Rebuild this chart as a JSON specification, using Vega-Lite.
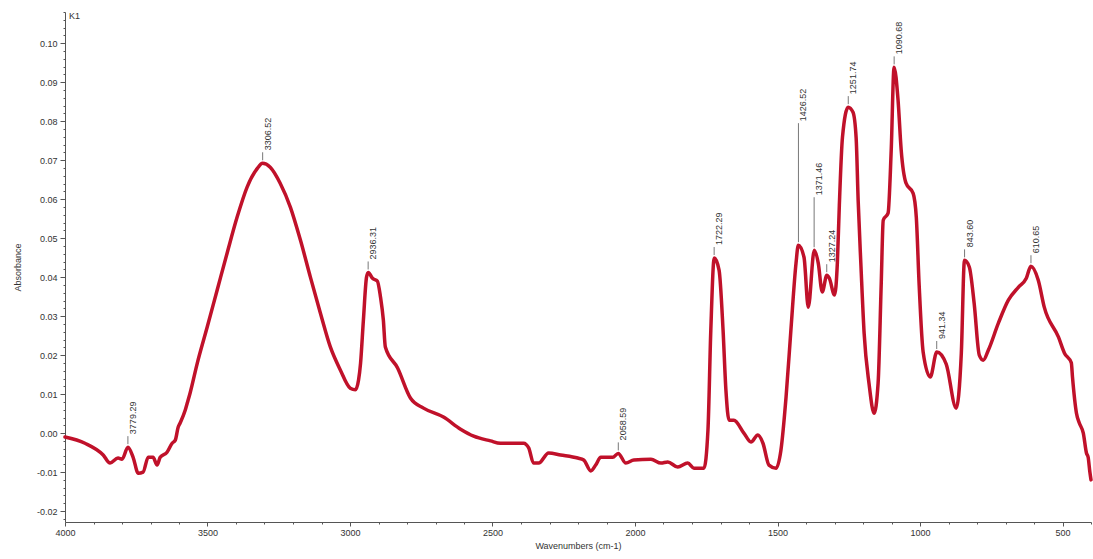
{
  "$schema": "https://vega.github.io/schema/vega-lite/v6.json",
  "width": 1026,
  "height": 510,
  "autosize": {"type": "none"},
  "padding": {"left": 65, "top": 12, "right": 2, "bottom": 37},
  "background": "white",
  "config": {"view": {"stroke": null}, "font": "Liberation Sans"},
  "title": {"text": "K1", "anchor": "start", "frame": "group", "fontSize": 9, "fontWeight": "normal", "color": "#333", "baseline": "top", "offset": -13, "dx": 4},
  "datasets": {
    "spectrum": [
      {"wn": 4000, "a": -0.0010}, {"wn": 3930, "a": -0.0026}, {"wn": 3866, "a": -0.0056}, {"wn": 3842, "a": -0.0077},
      {"wn": 3814, "a": -0.0064}, {"wn": 3800, "a": -0.0067}, {"wn": 3779, "a": -0.0036}, {"wn": 3761, "a": -0.0062},
      {"wn": 3743, "a": -0.0103}, {"wn": 3726, "a": -0.0100}, {"wn": 3708, "a": -0.0062}, {"wn": 3691, "a": -0.0062},
      {"wn": 3677, "a": -0.0082}, {"wn": 3666, "a": -0.0062}, {"wn": 3642, "a": -0.0049}, {"wn": 3624, "a": -0.0026},
      {"wn": 3613, "a": -0.0018}, {"wn": 3603, "a": 0.0015}, {"wn": 3596, "a": 0.0026}, {"wn": 3578, "a": 0.0059},
      {"wn": 3571, "a": 0.0077}, {"wn": 3561, "a": 0.0103}, {"wn": 3536, "a": 0.0179}, {"wn": 3501, "a": 0.0272},
      {"wn": 3466, "a": 0.0367}, {"wn": 3431, "a": 0.0462}, {"wn": 3396, "a": 0.0554}, {"wn": 3361, "a": 0.0631},
      {"wn": 3325, "a": 0.0679}, {"wn": 3307, "a": 0.0692}, {"wn": 3280, "a": 0.0682}, {"wn": 3245, "a": 0.0641},
      {"wn": 3209, "a": 0.0579}, {"wn": 3174, "a": 0.0495}, {"wn": 3139, "a": 0.0400}, {"wn": 3104, "a": 0.0308},
      {"wn": 3069, "a": 0.0221}, {"wn": 3034, "a": 0.0162}, {"wn": 2999, "a": 0.0115}, {"wn": 2981, "a": 0.0111},
      {"wn": 2970, "a": 0.0136}, {"wn": 2963, "a": 0.0179}, {"wn": 2953, "a": 0.0290}, {"wn": 2942, "a": 0.0400},
      {"wn": 2936, "a": 0.0412}, {"wn": 2921, "a": 0.0397}, {"wn": 2904, "a": 0.0390}, {"wn": 2893, "a": 0.0349},
      {"wn": 2883, "a": 0.0290}, {"wn": 2876, "a": 0.0221}, {"wn": 2833, "a": 0.0167}, {"wn": 2788, "a": 0.0090},
      {"wn": 2742, "a": 0.0064}, {"wn": 2672, "a": 0.0041}, {"wn": 2612, "a": 0.0010}, {"wn": 2566, "a": -0.0008},
      {"wn": 2507, "a": -0.0020}, {"wn": 2472, "a": -0.0026}, {"wn": 2391, "a": -0.0026}, {"wn": 2373, "a": -0.0038},
      {"wn": 2356, "a": -0.0077}, {"wn": 2338, "a": -0.0077}, {"wn": 2303, "a": -0.0051}, {"wn": 2261, "a": -0.0056},
      {"wn": 2201, "a": -0.0064}, {"wn": 2180, "a": -0.0069}, {"wn": 2155, "a": -0.0097}, {"wn": 2138, "a": -0.0082},
      {"wn": 2120, "a": -0.0062}, {"wn": 2078, "a": -0.0062}, {"wn": 2059, "a": -0.0052}, {"wn": 2032, "a": -0.0077},
      {"wn": 2004, "a": -0.0069}, {"wn": 1944, "a": -0.0067}, {"wn": 1909, "a": -0.0077}, {"wn": 1885, "a": -0.0074},
      {"wn": 1850, "a": -0.0087}, {"wn": 1815, "a": -0.0077}, {"wn": 1793, "a": -0.0090}, {"wn": 1758, "a": -0.0090},
      {"wn": 1744, "a": 0.0008}, {"wn": 1734, "a": 0.0264}, {"wn": 1722, "a": 0.0449}, {"wn": 1705, "a": 0.0418},
      {"wn": 1691, "a": 0.0264}, {"wn": 1681, "a": 0.0110}, {"wn": 1670, "a": 0.0033}, {"wn": 1653, "a": 0.0033},
      {"wn": 1618, "a": 0.0000}, {"wn": 1593, "a": -0.0023}, {"wn": 1569, "a": -0.0005}, {"wn": 1551, "a": -0.0026},
      {"wn": 1530, "a": -0.0082}, {"wn": 1505, "a": -0.0090}, {"wn": 1488, "a": -0.0044}, {"wn": 1470, "a": 0.0092},
      {"wn": 1453, "a": 0.0264}, {"wn": 1435, "a": 0.0436}, {"wn": 1427, "a": 0.0482}, {"wn": 1407, "a": 0.0451},
      {"wn": 1392, "a": 0.0323}, {"wn": 1371, "a": 0.0469}, {"wn": 1357, "a": 0.0436}, {"wn": 1343, "a": 0.0362},
      {"wn": 1327, "a": 0.0405}, {"wn": 1318, "a": 0.0397}, {"wn": 1300, "a": 0.0354}, {"wn": 1290, "a": 0.0436},
      {"wn": 1283, "a": 0.0585}, {"wn": 1272, "a": 0.0759}, {"wn": 1252, "a": 0.0836}, {"wn": 1235, "a": 0.0823},
      {"wn": 1224, "a": 0.0756}, {"wn": 1217, "a": 0.0597}, {"wn": 1207, "a": 0.0426}, {"wn": 1196, "a": 0.0256},
      {"wn": 1179, "a": 0.0128}, {"wn": 1161, "a": 0.0051}, {"wn": 1147, "a": 0.0128}, {"wn": 1136, "a": 0.0385},
      {"wn": 1129, "a": 0.0546}, {"wn": 1112, "a": 0.0564}, {"wn": 1101, "a": 0.0726}, {"wn": 1091, "a": 0.0938},
      {"wn": 1077, "a": 0.0854}, {"wn": 1066, "a": 0.0726}, {"wn": 1049, "a": 0.0641}, {"wn": 1024, "a": 0.0615},
      {"wn": 1013, "a": 0.0554}, {"wn": 1003, "a": 0.0380}, {"wn": 989, "a": 0.0208}, {"wn": 964, "a": 0.0144},
      {"wn": 941, "a": 0.0208}, {"wn": 908, "a": 0.0177}, {"wn": 873, "a": 0.0064}, {"wn": 855, "a": 0.0205},
      {"wn": 844, "a": 0.0443}, {"wn": 827, "a": 0.0426}, {"wn": 810, "a": 0.0333}, {"wn": 792, "a": 0.0200},
      {"wn": 778, "a": 0.0187}, {"wn": 760, "a": 0.0213}, {"wn": 725, "a": 0.0282}, {"wn": 690, "a": 0.0341},
      {"wn": 655, "a": 0.0374}, {"wn": 627, "a": 0.0397}, {"wn": 611, "a": 0.0428}, {"wn": 585, "a": 0.0392},
      {"wn": 564, "a": 0.0323}, {"wn": 514, "a": 0.0246}, {"wn": 493, "a": 0.0205}, {"wn": 469, "a": 0.0180},
      {"wn": 465, "a": 0.0144}, {"wn": 451, "a": 0.0051}, {"wn": 441, "a": 0.0026}, {"wn": 427, "a": 0.0000},
      {"wn": 416, "a": -0.0051}, {"wn": 410, "a": -0.0062}, {"wn": 404, "a": -0.0100}, {"wn": 400, "a": -0.0120}
    ],
    "peaks": [
      {"wn": 3779.29, "a": -0.0036, "label": "3779.29"},
      {"wn": 3306.52, "a": 0.0692, "label": "3306.52"},
      {"wn": 2936.31, "a": 0.0412, "label": "2936.31"},
      {"wn": 2058.59, "a": -0.0052, "label": "2058.59"},
      {"wn": 1722.29, "a": 0.0449, "label": "1722.29"},
      {"wn": 1426.52, "a": 0.0482, "label": "1426.52"},
      {"wn": 1371.46, "a": 0.0469, "label": "1371.46"},
      {"wn": 1327.24, "a": 0.0405, "label": "1327.24"},
      {"wn": 1251.74, "a": 0.0836, "label": "1251.74"},
      {"wn": 1090.68, "a": 0.0938, "label": "1090.68"},
      {"wn": 941.34, "a": 0.0208, "label": "941.34"},
      {"wn": 843.60, "a": 0.0443, "label": "843.60"},
      {"wn": 610.65, "a": 0.0428, "label": "610.65"}
    ]
  },
  "encoding": {
    "x": {
      "field": "wn", "type": "quantitative",
      "scale": {"domain": [400, 4000], "reverse": true, "nice": false, "zero": false},
      "axis": {
        "title": "Wavenumbers (cm-1)",
        "values": [4000,3900,3800,3700,3600,3500,3400,3300,3200,3100,3000,2900,2800,2700,2600,2500,2400,2300,2200,2100,2000,1900,1800,1700,1600,1500,1400,1300,1200,1100,1000,900,800,700,600,500,400],
        "labelExpr": "datum.value % 500 === 0 ? format(datum.value, 'd') : ''",
        "tickSize": {"condition": {"test": "datum.value % 500 === 0", "value": 4}, "value": 2},
        "grid": false, "labelOverlap": false, "labelFlush": false, "labelBound": false,
        "labelFontSize": 9, "titleFontSize": 9, "titleFontWeight": "normal",
        "labelColor": "#333", "titleColor": "#333", "domainColor": "#555", "tickColor": "#555",
        "labelPadding": 2, "titlePadding": 4
      }
    },
    "y": {
      "field": "a", "type": "quantitative",
      "scale": {"domain": [-0.0228, 0.108], "nice": false, "zero": false},
      "axis": {
        "title": "Absorbance",
        "values": [-0.022,-0.02,-0.018,-0.016,-0.014,-0.012,-0.01,-0.008,-0.006,-0.004,-0.002,0,0.002,0.004,0.006,0.008,0.01,0.012,0.014,0.016,0.018,0.02,0.022,0.024,0.026,0.028,0.03,0.032,0.034,0.036,0.038,0.04,0.042,0.044,0.046,0.048,0.05,0.052,0.054,0.056,0.058,0.06,0.062,0.064,0.066,0.068,0.07,0.072,0.074,0.076,0.078,0.08,0.082,0.084,0.086,0.088,0.09,0.092,0.094,0.096,0.098,0.1,0.102,0.104,0.106,0.108],
        "labelExpr": "abs(round(datum.value * 1000)) % 10 === 0 ? replace(format(datum.value, '.2f'), '\u2212', '-') : ''",
        "tickSize": {"condition": {"test": "abs(round(datum.value * 1000)) % 10 === 0", "value": 5}, "value": 2},
        "grid": false, "labelOverlap": false, "labelFlush": false, "labelBound": false,
        "labelFontSize": 9, "titleFontSize": 9, "titleFontWeight": "normal",
        "labelColor": "#333", "titleColor": "#333", "domainColor": "#555", "tickColor": "#555",
        "labelPadding": 3, "titlePadding": 14
      }
    }
  },
  "layer": [
    {
      "data": {"name": "spectrum"},
      "mark": {"type": "line", "color": "#c0112a", "strokeWidth": 3.5, "interpolate": "monotone", "strokeJoin": "round", "strokeCap": "round"}
    },
    {
      "data": {"name": "peaks"},
      "transform": [{"filter": "datum.label !== '1426.52' && datum.label !== '1371.46'"}],
      "mark": {"type": "rule", "color": "#555", "strokeWidth": 0.8, "yOffset": -3, "y2Offset": -11},
      "encoding": {"y2": {"field": "a"}}
    },
    {
      "data": {"name": "peaks"},
      "transform": [{"filter": "datum.label !== '1426.52' && datum.label !== '1371.46'"}],
      "mark": {"type": "text", "angle": 270, "align": "left", "baseline": "middle", "yOffset": -13, "xOffset": 5, "fontSize": 9, "color": "#333"},
      "encoding": {"text": {"field": "label"}}
    },
    {
      "data": {"name": "peaks"},
      "transform": [{"filter": "datum.label === '1426.52'"}],
      "mark": {"type": "rule", "color": "#555", "strokeWidth": 0.8, "yOffset": -3, "y2Offset": -122},
      "encoding": {"y2": {"field": "a"}}
    },
    {
      "data": {"name": "peaks"},
      "transform": [{"filter": "datum.label === '1426.52'"}],
      "mark": {"type": "text", "angle": 270, "align": "left", "baseline": "middle", "yOffset": -124, "xOffset": 5, "fontSize": 9, "color": "#333"},
      "encoding": {"text": {"field": "label"}}
    },
    {
      "data": {"name": "peaks"},
      "transform": [{"filter": "datum.label === '1371.46'"}],
      "mark": {"type": "rule", "color": "#555", "strokeWidth": 0.8, "yOffset": -3, "y2Offset": -53},
      "encoding": {"y2": {"field": "a"}}
    },
    {
      "data": {"name": "peaks"},
      "transform": [{"filter": "datum.label === '1371.46'"}],
      "mark": {"type": "text", "angle": 270, "align": "left", "baseline": "middle", "yOffset": -55, "xOffset": 5, "fontSize": 9, "color": "#333"},
      "encoding": {"text": {"field": "label"}}
    }
  ]
}
